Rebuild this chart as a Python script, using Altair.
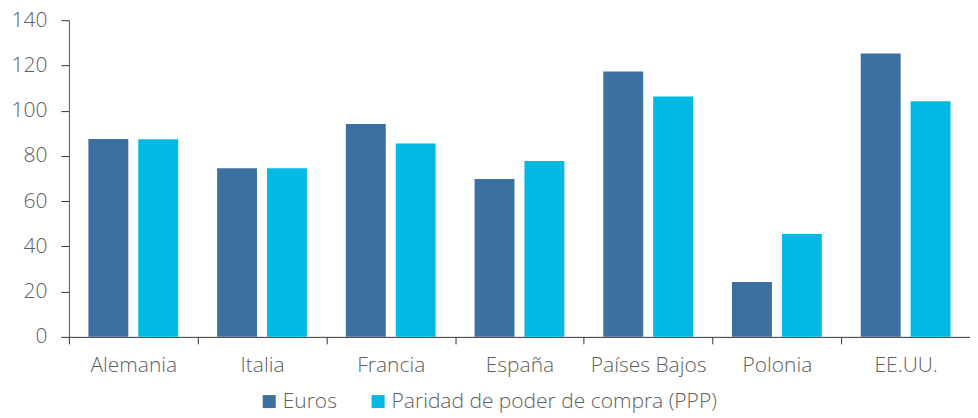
import altair as alt
import pandas as pd

countries = ["Alemania", "Italia", "Francia", "España", "Países Bajos", "Polonia", "EE.UU."]
series = ["Euros", "Paridad de poder de compra (PPP)"]
euros = [87.5, 74.6, 94.1, 69.8, 117.3, 24.3, 125.3]
ppp = [87.4, 74.6, 85.5, 77.7, 106.3, 45.5, 104.2]
colors = ["#3C70A1", "#00BAE3"]

rows = []
for c, e, p in zip(countries, euros, ppp):
    rows.append({"pais": c, "serie": series[0], "valor": e})
    rows.append({"pais": c, "serie": series[1], "valor": p})
df = pd.DataFrame(rows)

font = "Open Sans"
weight = 300
grey = "#606060"

chart = alt.Chart(df).mark_bar().encode(
    x=alt.X("pais:N", sort=countries,
            scale=alt.Scale(paddingInner=0, paddingOuter=0),
            axis=alt.Axis(title=None, labelAngle=0, tickBand="extent",
                          labelFont=font, labelFontSize=21, labelColor=grey,
                          labelFontWeight=weight,
                          labelPadding=11, tickSize=7, domainColor="#333333",
                          tickColor="#333333", grid=False)),
    xOffset=alt.XOffset("serie:N", sort=series,
                        scale=alt.Scale(paddingInner=0.2, paddingOuter=0.39)),
    y=alt.Y("valor:Q",
            scale=alt.Scale(domain=[0, 140], nice=False),
            axis=alt.Axis(title=None, values=[0, 20, 40, 60, 80, 100, 120, 140],
                          labelFont=font, labelFontSize=21, labelColor=grey,
                          labelFontWeight=weight,
                          labelPadding=14, tickSize=8, domainColor="#555555",
                          tickColor="#333333", grid=False)),
    color=alt.Color("serie:N", sort=series,
                    scale=alt.Scale(domain=series, range=colors),
                    legend=alt.Legend(title=None, orient="none", legendX=190, legendY=371,
                                      direction="horizontal", symbolType="square",
                                      symbolSize=169, symbolStrokeWidth=0,
                                      labelFont=font, labelFontSize=21, labelColor=grey,
                                      labelFontWeight=weight, labelLimit=500,
                                      labelOffset=3, columnPadding=30)),
).properties(
    width=902, height=317,
    autosize=alt.AutoSizeParams(type="none"),
    padding={"left": 61, "top": 12, "right": 0, "bottom": 78},
).configure_view(stroke=None)

chart.save("out.html", embed_options={"renderer": "svg", "actions": False})
